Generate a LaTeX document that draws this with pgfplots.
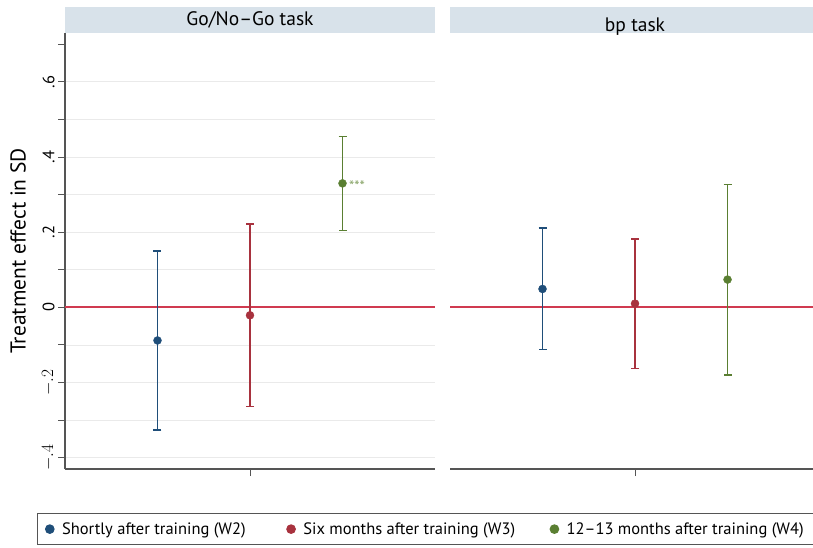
\documentclass[border=0pt]{standalone}
\usepackage{pgfplots}
\pgfplotsset{compat=1.18}
\usepackage{fontspec}
\setmainfont{PT Sans}

\definecolor{wblue}{HTML}{1F4E79}
\definecolor{wred}{HTML}{A8323E}
\definecolor{wgreen}{HTML}{5A7F32}
\definecolor{zerored}{HTML}{D03A50}
\definecolor{gridgrey}{HTML}{EAEAEA}
\definecolor{axisgrey}{HTML}{555555}
\definecolor{stripblue}{HTML}{D8E2EA}
\definecolor{stargreen}{HTML}{8AA66A}

\tikzset{zeroline/.style={draw=zerored, line width=1.9pt}}

\pgfplotsset{
  panel/.style={
    scale only axis, height=436pt,
    ymin=-0.43, ymax=0.73, xmin=-2,
    ytick={-0.4,-0.3,-0.2,-0.1,0,0.1,0.2,0.3,0.4,0.5,0.6},
    ymajorgrids, grid style={color=gridgrey, line width=0.9pt},
    xtick={0}, xticklabels={},
    tick align=outside, major tick length=7pt,
    tick style={color=axisgrey, line width=1pt},
    axis line style={color=axisgrey, line width=1.2pt},
    clip=false,
    font=\fontsize{16.5}{18}\selectfont,
  },
  wave/.style={
    only marks, mark=*, mark size=4pt, color=#1, forget plot,
    error bars/.cd, y dir=both, y explicit,
    error bar style={line width=1.2pt, color=#1},
    error mark options={rotate=90, mark size=4pt, line width=1.2pt, color=#1},
  },
}

\begin{document}
\begin{tikzpicture}
\path[use as bounding box, fill=white] (0,0) rectangle (813pt,547pt);

% Go/No-Go panel
\begin{axis}[panel, at={(65pt,78pt)}, anchor=south west, width=370pt, xmax=2,
  axis lines*=left,
  yticklabels={$-.4$,,$-.2$,,0,,.2,,.4,,.6},
  extra y ticks={0.7}, extra y tick labels={},
  extra y tick style={grid=none},
  yticklabel style={rotate=90, anchor=south},
  ylabel={Treatment effect in SD},
  ylabel style={font=\fontsize{21.5}{23}\selectfont, at={(axis description cs:-0.127,0.5)}, anchor=center},
  legend columns=3,
  legend cell align=left,
  legend style={at={(axis description cs:-0.0757,-0.1009)}, anchor=north west,
    draw=axisgrey, line width=1pt, font=\fontsize{16.5}{18}\selectfont,
    inner xsep=8pt, inner ysep=7pt, column sep=6pt},
]
\fill[stripblue] (rel axis cs:0,1) rectangle (rel axis cs:1,1.0596);
\node[font=\fontsize{19.5}{21}\selectfont] at (rel axis cs:0.5,1.0298) {Go/No--Go task};
\draw[zeroline] (axis cs:-2,0) -- (axis cs:2,0);
\addplot[wave=wblue]  coordinates {(-1,-0.088) +- (0,0.238)};
\addplot[wave=wred]   coordinates {(0,-0.021) +- (0,0.243)};
\addplot[wave=wgreen] coordinates {(1,0.330) +- (0,0.125)};
\node[anchor=west, text=stargreen, font=\fontsize{15}{15}\selectfont, inner sep=0pt, yshift=-3pt] at (axis cs:1.07,0.33) {***};
\addlegendimage{only marks, mark=*, mark size=4.3pt, color=wblue}
\addlegendentry{Shortly after training (W2)\kern 33pt}
\addlegendimage{only marks, mark=*, mark size=4.3pt, color=wred}
\addlegendentry{Six months after training (W3)\kern 27pt}
\addlegendimage{only marks, mark=*, mark size=4.3pt, color=wgreen}
\addlegendentry{12--13 months after training (W4)}
\end{axis}

% bp panel
\begin{axis}[panel, at={(450pt,78pt)}, anchor=south west, width=363pt, xmax=1.924,
  axis x line*=bottom, axis y line=none,
  yticklabels={},
]
\fill[stripblue] (rel axis cs:0,1) rectangle (rel axis cs:1,1.0596);
\node[font=\fontsize{19.5}{21}\selectfont] at (axis cs:0,0.7475) {bp task};
\draw[zeroline] (axis cs:-2,0) -- (axis cs:1.924,0);
\addplot[wave=wblue]  coordinates {(-1,0.049) +- (0,0.162)};
\addplot[wave=wred]   coordinates {(0,0.010) +- (0,0.172)};
\addplot[wave=wgreen] coordinates {(1,0.074) +- (0,0.254)};
\end{axis}
\end{tikzpicture}
\end{document}
